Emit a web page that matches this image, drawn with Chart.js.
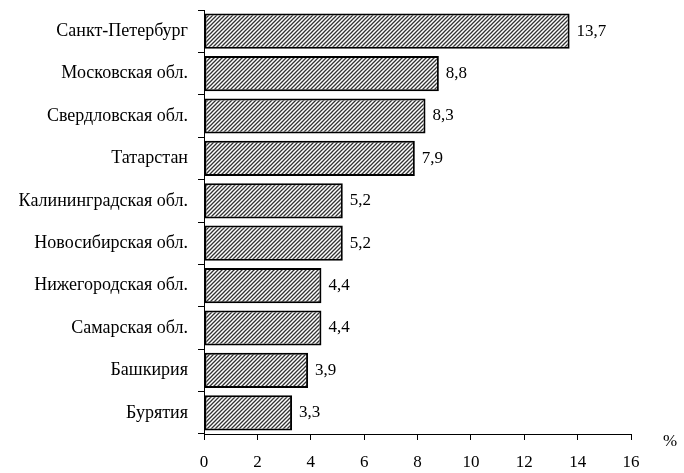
<!DOCTYPE html>
<html>
<head>
<meta charset="utf-8">
<script src="https://cdn.jsdelivr.net/npm/chart.js@4"></script>
<style>
  html, body { margin: 0; padding: 0; background: #fff; }
  #wrap { width: 684px; height: 473px; }
</style>
</head>
<body>
<div id="wrap"><canvas id="myChart" width="684" height="473"></canvas></div>
<script>
const regions = ['Санкт-Петербург', 'Московская обл.', 'Свердловская обл.', 'Татарстан', 'Калининградская обл.', 'Новосибирская обл.', 'Нижегородская обл.', 'Самарская обл.', 'Башкирия', 'Бурятия'];
const shares = [13.7, 8.8, 8.3, 7.9, 5.2, 5.2, 4.4, 4.4, 3.9, 3.3];
const xTicks = [0, 2, 4, 6, 8, 10, 12, 14, 16];

// diagonal hatch fill
function hatch() {
    const c = document.createElement('canvas');
    c.width = 4; c.height = 4;
    const g = c.getContext('2d');
    g.fillStyle = '#fff';
    g.fillRect(0, 0, 4, 4);
    g.strokeStyle = '#333';
    g.lineWidth = 1.3;
    g.beginPath();
    g.moveTo(0, 4); g.lineTo(4, 0);
    g.moveTo(-1, 1); g.lineTo(1, -1);
    g.moveTo(3, 5); g.lineTo(5, 3);
    g.stroke();
    return g.createPattern(c, 'repeat');
}

const serif = 'Liberation Serif, Times New Roman, serif';

const extras = {
    id: 'extras',
    afterDatasetsDraw(chart) {
        const ctx = chart.ctx;
        const meta = chart.getDatasetMeta(0);
        ctx.save();
        ctx.fillStyle = '#000';
        ctx.font = '17px ' + serif;
        ctx.textAlign = 'left';
        ctx.textBaseline = 'middle';
        meta.data.forEach((bar, i) => {
            ctx.fillText(shares[i].toFixed(1).replace('.', ','), bar.x + 7, bar.y);
        });
        ctx.fillText('%', chart.chartArea.right + 32, chart.chartArea.bottom + 8);
        ctx.restore();
    }
};

const ctx = document.getElementById('myChart').getContext('2d');
const myChart = new Chart(ctx, {
    type: 'bar',
    data: {
        labels: regions,
        datasets: [{
            data: shares,
            backgroundColor: hatch(),
            borderColor: '#000',
            borderWidth: 2,
            borderSkipped: false,
            categoryPercentage: 1,
            barPercentage: 0.83
        }]
    },
    options: {
        indexAxis: 'y',
        responsive: false,
        animation: false,
        layout: { padding: { top: 10, right: 53, left: 0, bottom: 0 } },
        plugins: {
            legend: { display: false },
            tooltip: { enabled: false }
        },
        scales: {
            x: {
                min: 0,
                max: 16,
                afterBuildTicks: (s) => { s.ticks = xTicks.map(v => ({ value: v })); },
                afterFit: (s) => { s.height = 39; s.paddingLeft = 0; s.paddingRight = 0; },
                border: { color: '#000', width: 1 },
                grid: { drawOnChartArea: false, drawTicks: true, tickLength: 6, color: '#000' },
                ticks: { color: '#000', font: { family: serif, size: 17 }, padding: 12, maxRotation: 0 }
            },
            y: {
                afterFit: (s) => { s.width = 204; s.paddingTop = 0; s.paddingBottom = 0; },
                border: { color: '#000', width: 1 },
                grid: { drawOnChartArea: false, drawTicks: true, tickLength: 6, color: '#000', offset: true },
                ticks: { color: '#000', font: { family: serif, size: 18 }, padding: 10 }
            }
        }
    },
    plugins: [extras]
});
</script>
</body>
</html>
